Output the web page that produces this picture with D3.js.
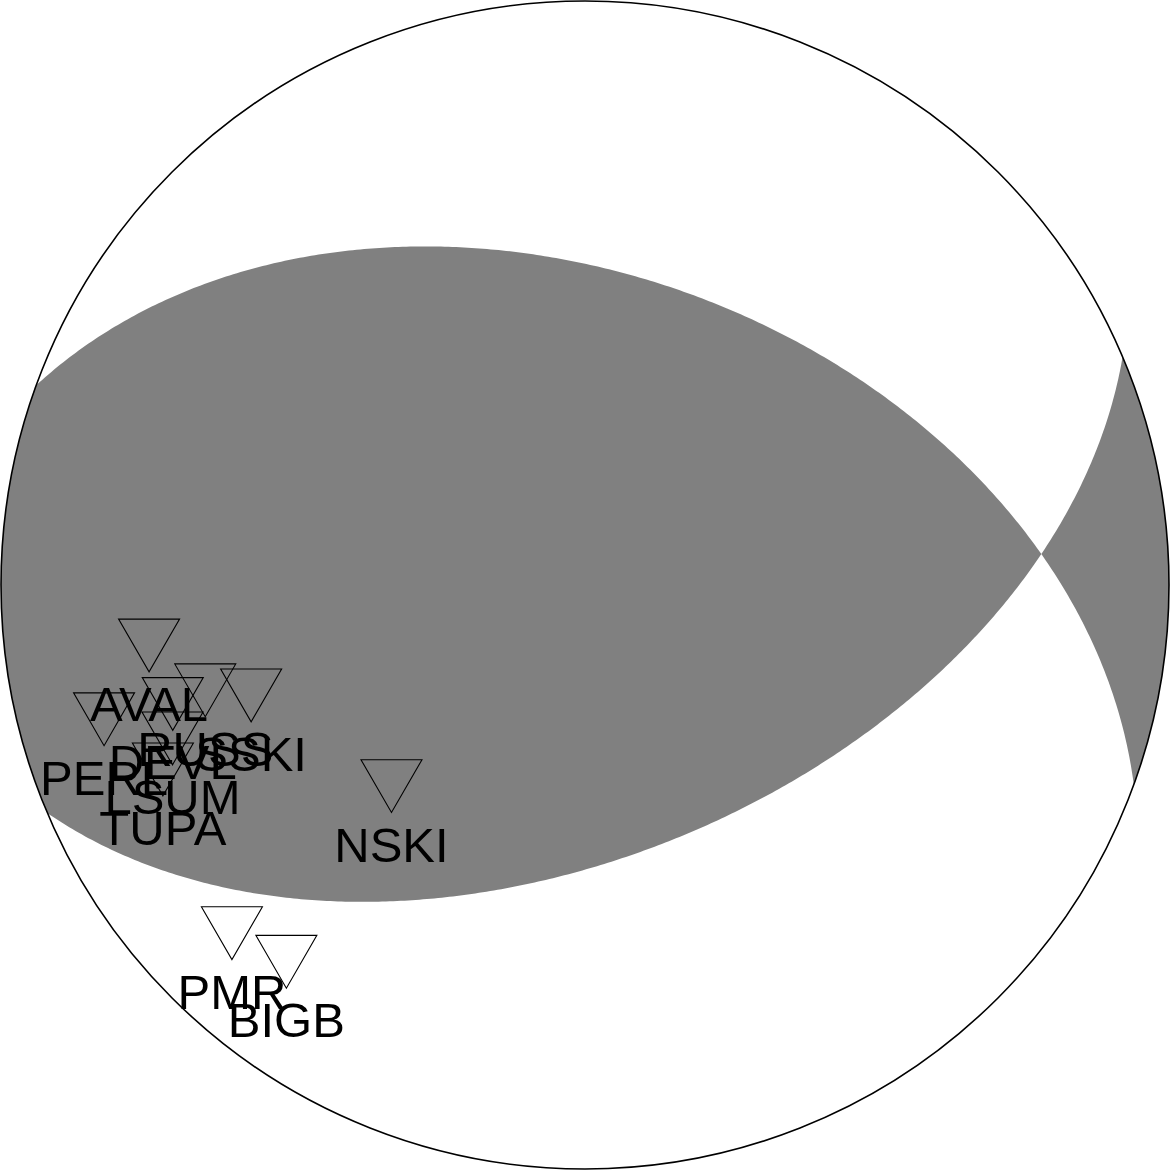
<!DOCTYPE html>
<html>
<head>
<meta charset="utf-8">
<script src="https://cdn.jsdelivr.net/npm/d3@7"></script>
<style>
  html, body { margin: 0; padding: 0; background: #ffffff; }
  svg { display: block; }
</style>
</head>
<body>
<script>
// ---- Data ----
// Nodal planes (degrees)
const planeStrikes = [290, 67];
const planeDips = [46, 52];
// Stations: name, azimuth (deg), takeoff angle (deg)
const stationNames    = ["AVAL", "RUSS", "SSKI", "DEVL", "PERL", "LSUM", "TUPA", "NSKI", "PMR", "BIGB"];
const stationAzimuths = [262.1, 254.5, 251.7, 253.9, 254.4, 249.6, 246.4, 223.9, 225.4, 218.4];
const stationTakeoffs = [64.4, 57.0, 50.4, 62.6, 74.4, 64.4, 67.8, 39.5, 73.8, 71.2];

// ---- Setup ----
const W = 1171, H = 1171;
const svg = d3.select("body").append("svg").attr("width", W).attr("height", H);
const xs = d3.scaleLinear().domain([-1, 1]).range([1, 1169]);
const ys = d3.scaleLinear().domain([-1, 1]).range([1169, 1]);
const rad = Math.PI / 180;

// Lambert equal-area (lower hemisphere) of unit vector [east, north, up]
function proj(v) {
  const k = 1 / Math.sqrt(1 - v[2]);
  return [v[0] * k, v[1] * k];
}
function planeCurve(strike, dip) {
  const s = [Math.sin(strike * rad), Math.cos(strike * rad), 0];
  const dd = (strike + 90) * rad;
  const d = [Math.sin(dd) * Math.cos(dip * rad), Math.cos(dd) * Math.cos(dip * rad), -Math.sin(dip * rad)];
  const pts = [];
  for (let b = 0; b <= 180; b += 0.5) {
    const c = Math.cos(b * rad), sn = Math.sin(b * rad);
    pts.push(proj([c * s[0] + sn * d[0], c * s[1] + sn * d[1], c * s[2] + sn * d[2]]));
  }
  return pts;
}
function arc(az0, az1) {
  const pts = [], n = 180;
  for (let i = 0; i <= n; i++) {
    const a = (az0 + (az1 - az0) * i / n) * rad;
    pts.push([Math.sin(a), Math.cos(a)]);
  }
  return pts;
}
const line = d3.line().x(p => xs(p[0])).y(p => ys(p[1]));

// Side of plane A containing the centre, and far side of plane B (XOR -> compressional quadrants)
const [sA, sB] = planeStrikes;
const polyA = planeCurve(sA, planeDips[0]).concat(arc(sA + 180, sA + 360));
const polyB = planeCurve(sB, planeDips[1]).concat(arc(sB + 180, sB));

svg.append("path")
  .attr("d", line(polyA) + "Z" + line(polyB) + "Z")
  .attr("fill", "#808080")
  .attr("fill-rule", "evenodd")
  .attr("stroke", "none");

svg.append("circle")
  .attr("cx", xs(0)).attr("cy", ys(0))
  .attr("r", xs(1) - xs(0))
  .attr("fill", "none")
  .attr("stroke", "#000")
  .attr("stroke-width", 1.6);

// ---- Stations ----
const stations = stationNames.map((n, i) => {
  const az = stationAzimuths[i] * rad;
  const r = Math.SQRT2 * Math.sin(stationTakeoffs[i] * rad / 2);
  return { name: n, px: xs(r * Math.sin(az)), py: ys(r * Math.cos(az)) };
});
const half = 30.5, hh = 26.4;
svg.append("g").selectAll("path").data(stations).join("path")
  .attr("d", d => `M${d.px - half},${d.py - hh}L${d.px + half},${d.py - hh}L${d.px},${d.py + hh}Z`)
  .attr("fill", "none")
  .attr("stroke", "#000")
  .attr("stroke-width", 1.1);

svg.append("g").selectAll("text").data(stations).join("text")
  .attr("x", d => d.px)
  .attr("y", d => d.py + 75.5)
  .attr("text-anchor", "middle")
  .attr("font-family", "'Liberation Sans', Arial, Helvetica, sans-serif")
  .attr("font-size", 49)
  .attr("fill", "#000")
  .text(d => d.name);
</script>
</body>
</html>
